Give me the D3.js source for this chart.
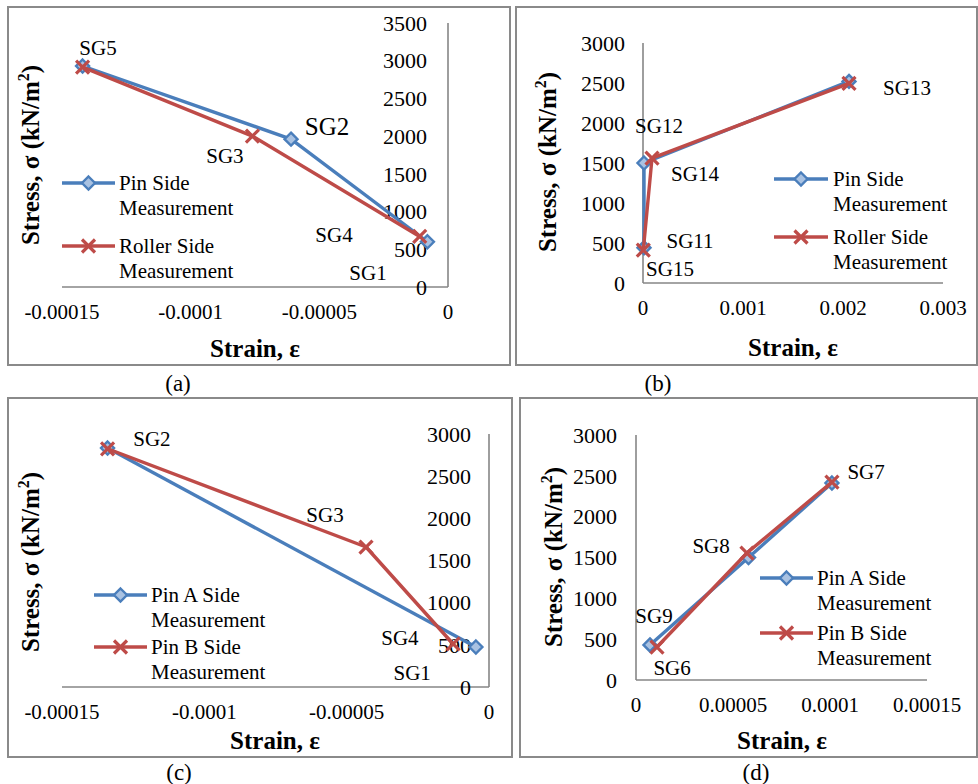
<!DOCTYPE html>
<html><head><meta charset="utf-8">
<script src="https://cdn.jsdelivr.net/npm/d3@7"></script>
<style>
body{margin:0;background:#fff}
svg{display:block}
text{font-family:"Liberation Serif","Times New Roman",serif;fill:#000}
</style>
</head><body><svg id="chart" width="978" height="784"></svg>
<script>
// ---------- DATA ----------
// Panel (a)
const aPinStrain = [-0.000142, -0.000061, -0.000008];
const aPinStress = [2930, 1960, 600];
const aRollerStrain = [-0.000142, -0.000076, -0.000011];
const aRollerStress = [2915, 2000, 670];
const aXTicks = [-0.00015, -0.0001, -0.00005, 0];
const aXTickLabels = ["-0.00015", "-0.0001", "-0.00005", "0"];
const aYTicks = [0, 500, 1000, 1500, 2000, 2500, 3000, 3500];
const aLabelNames = ["SG5", "SG2", "SG3", "SG4", "SG1"];
const aLabelStrain = [-0.000136, -0.000047, -0.0000867, -0.0000443, -0.0000311];
const aLabelStress = [3169, 2134, 1737, 689, 186];
const aSeriesNames = [["Pin Side", "Measurement"], ["Roller Side", "Measurement"]];

// Panel (b)
const bPinStrain = [0.00001, 0.00001, 0.00206];
const bPinStress = [440, 1500, 2520];
const bRollerStrain = [0.000003, 0.00009, 0.00206];
const bRollerStress = [410, 1560, 2495];
const bXTicks = [0, 0.001, 0.002, 0.003];
const bXTickLabels = ["0", "0.001", "0.002", "0.003"];
const bYTicks = [0, 500, 1000, 1500, 2000, 2500, 3000];
const bLabelNames = ["SG13", "SG12", "SG14", "SG11", "SG15"];
const bLabelStrain = [0.00264, 0.00016, 0.00052, 0.00047, 0.00027];
const bLabelStress = [2437, 1962, 1362, 525, 175];
const bSeriesNames = [["Pin Side", "Measurement"], ["Roller Side", "Measurement"]];

// Panel (c)
const cPinAStrain = [-0.000134, -0.0000046];
const cPinAStress = [2834, 474];
const cPinBStrain = [-0.000134, -0.0000432, -0.0000126];
const cPinBStress = [2825, 1660, 510];
const cXTicks = [-0.00015, -0.0001, -0.00005, 0];
const cXTickLabels = ["-0.00015", "-0.0001", "-0.00005", "0"];
const cYTicks = [0, 500, 1000, 1500, 2000, 2500, 3000];
const cLabelNames = ["SG2", "SG3", "SG4", "SG1"];
const cLabelStrain = [-0.0001184, -0.0000576, -0.0000313, -0.000027];
const cLabelStress = [2941, 2040, 581, 166];
const cSeriesNames = [["Pin A Side", "Measurement"], ["Pin B Side", "Measurement"]];

// Panel (d)
const dPinAStrain = [0.0000072, 0.000058, 0.000101];
const dPinAStress = [429, 1500, 2412];
const dPinBStrain = [0.0000108, 0.0000572, 0.000101];
const dPinBStress = [404, 1555, 2424];
const dXTicks = [0, 0.00005, 0.0001, 0.00015];
const dXTickLabels = ["0", "0.00005", "0.0001", "0.00015"];
const dYTicks = [0, 500, 1000, 1500, 2000, 2500, 3000];
const dLabelNames = ["SG7", "SG8", "SG9", "SG6"];
const dLabelStrain = [0.0001186, 0.0000387, 0.0000093, 0.0000186];
const dLabelStress = [2547, 1641, 784, 147];
const dSeriesNames = [["Pin A Side", "Measurement"], ["Pin B Side", "Measurement"]];

const captions = ["(a)", "(b)", "(c)", "(d)"];

// ---------- STYLE ----------
const BLUE = "#4a7ebb", BLUE_FILL = "#a9c2e2", RED = "#be4b48";
const AXIS = "#868686", BORDER = "#8a8a8a";
const svg = d3.select("#chart");

function zip(xs, ys) { return xs.map((x, i) => [x, ys[i]]); }

function diamond(g, x, y) {
  g.append("path").attr("transform", `translate(${x},${y})`)
    .attr("d", "M0,-6.5L6.5,0L0,6.5L-6.5,0Z")
    .attr("fill", BLUE_FILL).attr("stroke", BLUE).attr("stroke-width", 2.4);
}
function cross(g, x, y) {
  g.append("path").attr("transform", `translate(${x},${y})`)
    .attr("d", "M-6.5,-6.5L6.5,6.5M6.5,-6.5L-6.5,6.5")
    .attr("fill", "none").attr("stroke", RED).attr("stroke-width", 3.2);
}

function panel(cfg) {
  const g = svg.append("g");
  g.append("rect").attr("x", cfg.box[0]).attr("y", cfg.box[1])
    .attr("width", cfg.box[2] - cfg.box[0]).attr("height", cfg.box[3] - cfg.box[1])
    .attr("fill", "none").attr("stroke", BORDER).attr("stroke-width", 2);

  const x = d3.scaleLinear().domain(cfg.xDomain).range(cfg.xRange);
  const y = d3.scaleLinear().domain(cfg.yDomain).range(cfg.yRange);
  const x0 = x(0), y0 = y(0);

  g.append("line").attr("x1", cfg.xRange[0]).attr("x2", cfg.xRange[1])
    .attr("y1", y0).attr("y2", y0).attr("stroke", AXIS).attr("stroke-width", 1.6);
  g.append("line").attr("x1", x0).attr("x2", x0)
    .attr("y1", cfg.yRange[0]).attr("y2", cfg.yRange[1]).attr("stroke", AXIS).attr("stroke-width", 1.6);

  cfg.xTicks.forEach((t, i) => {
    g.append("text").attr("x", x(t)).attr("y", y0 + 25).attr("dy", "0.35em")
      .attr("text-anchor", "middle").attr("font-size", 21).text(cfg.xTickLabels[i]);
  });
  cfg.yTicks.forEach(t => {
    g.append("text").attr("x", x0 - cfg.yGap).attr("y", y(t)).attr("dy", "0.35em")
      .attr("text-anchor", "end").attr("font-size", 22).text(t);
  });

  const line = d3.line().x(d => x(d[0])).y(d => y(d[1]));
  cfg.series.forEach(s => {
    const pts = zip(s.strain, s.stress);
    g.append("path").attr("d", line(pts)).attr("fill", "none")
      .attr("stroke", s.color).attr("stroke-width", 3.4).attr("stroke-linejoin", "round");
    pts.forEach(p => s.marker(g, x(p[0]), y(p[1])));
  });

  cfg.labelNames.forEach((n, i) => {
    g.append("text").attr("x", x(cfg.labelStrain[i])).attr("y", y(cfg.labelStress[i]))
      .attr("dy", "0.35em").attr("text-anchor", "middle")
      .attr("font-size", n === cfg.bigLabel ? 25 : 21).text(n);
  });

  cfg.series.forEach((s, i) => {
    const ly = cfg.legend.ys[i];
    g.append("line").attr("x1", cfg.legend.x1).attr("x2", cfg.legend.x2)
      .attr("y1", ly).attr("y2", ly).attr("stroke", s.color).attr("stroke-width", 3.4);
    s.marker(g, (cfg.legend.x1 + cfg.legend.x2) / 2, ly);
    cfg.names[i].forEach((t, k) => {
      g.append("text").attr("x", cfg.legend.tx).attr("y", ly + k * 25).attr("dy", "0.35em")
        .attr("font-size", 21).text(t);
    });
  });

  g.append("text").attr("x", cfg.xTitle[0]).attr("y", cfg.xTitle[1]).attr("dy", "0.35em")
    .attr("text-anchor", "middle").attr("font-size", 25).attr("font-weight", "bold").text("Strain, ε");
  const yt = g.append("text").attr("transform", `translate(${cfg.yTitle[0]},${cfg.yTitle[1]}) rotate(-90)`)
    .attr("dy", "0.35em").attr("text-anchor", "middle").attr("font-size", 25).attr("font-weight", "bold");
  yt.append("tspan").text("Stress, σ (kN/m");
  yt.append("tspan").attr("font-size", 16).attr("dy", "-0.6em").text("2");
  yt.append("tspan").attr("dy", "0.38em").text(")");

  g.append("text").attr("x", cfg.caption[0]).attr("y", cfg.caption[1]).attr("dy", "0.35em")
    .attr("text-anchor", "middle").attr("font-size", 23).text(cfg.captionText);
}

panel({
  box: [8, 7, 510, 365], xDomain: [-0.00015, 0], xRange: [62, 448],
  yDomain: [0, 3500], yRange: [287, 23], xTicks: aXTicks, xTickLabels: aXTickLabels,
  yTicks: aYTicks, yGap: 21,
  series: [
    { strain: aPinStrain, stress: aPinStress, color: BLUE, marker: diamond },
    { strain: aRollerStrain, stress: aRollerStress, color: RED, marker: cross }
  ],
  labelNames: aLabelNames, labelStrain: aLabelStrain, labelStress: aLabelStress, bigLabel: "SG2",
  legend: { x1: 62, x2: 115, tx: 119, ys: [183, 246] }, names: aSeriesNames,
  xTitle: [255, 348], yTitle: [30, 155], caption: [178, 383], captionText: captions[0]
});

panel({
  box: [516, 7, 977, 365], xDomain: [0, 0.003], xRange: [643, 943],
  yDomain: [0, 3000], yRange: [283, 43], xTicks: bXTicks, xTickLabels: bXTickLabels,
  yTicks: bYTicks, yGap: 18,
  series: [
    { strain: bPinStrain, stress: bPinStress, color: BLUE, marker: diamond },
    { strain: bRollerStrain, stress: bRollerStress, color: RED, marker: cross }
  ],
  labelNames: bLabelNames, labelStrain: bLabelStrain, labelStress: bLabelStress, bigLabel: null,
  legend: { x1: 774, x2: 828, tx: 833, ys: [179, 237] }, names: bSeriesNames,
  xTitle: [793, 347], yTitle: [547, 162], caption: [658, 383], captionText: captions[1]
});

panel({
  box: [8, 398, 512, 757], xDomain: [-0.00015, 0], xRange: [62, 489],
  yDomain: [0, 3000], yRange: [687, 434], xTicks: cXTicks, xTickLabels: cXTickLabels,
  yTicks: cYTicks, yGap: 18,
  series: [
    { strain: cPinAStrain, stress: cPinAStress, color: BLUE, marker: diamond },
    { strain: cPinBStrain, stress: cPinBStress, color: RED, marker: cross }
  ],
  labelNames: cLabelNames, labelStrain: cLabelStrain, labelStress: cLabelStress, bigLabel: null,
  legend: { x1: 94, x2: 147, tx: 151, ys: [595, 647] }, names: cSeriesNames,
  xTitle: [275, 740], yTitle: [30, 562], caption: [179, 772], captionText: captions[2]
});

panel({
  box: [520, 398, 977, 757], xDomain: [0, 0.00015], xRange: [636, 927],
  yDomain: [0, 3000], yRange: [680, 435], xTicks: dXTicks, xTickLabels: dXTickLabels,
  yTicks: dYTicks, yGap: 19,
  series: [
    { strain: dPinAStrain, stress: dPinAStress, color: BLUE, marker: diamond },
    { strain: dPinBStrain, stress: dPinBStress, color: RED, marker: cross }
  ],
  labelNames: dLabelNames, labelStrain: dLabelStrain, labelStress: dLabelStress, bigLabel: null,
  legend: { x1: 760, x2: 813, tx: 817, ys: [578, 633] }, names: dSeriesNames,
  xTitle: [782, 740], yTitle: [553, 557], caption: [756, 772], captionText: captions[3]
});
</script>
</body></html>
